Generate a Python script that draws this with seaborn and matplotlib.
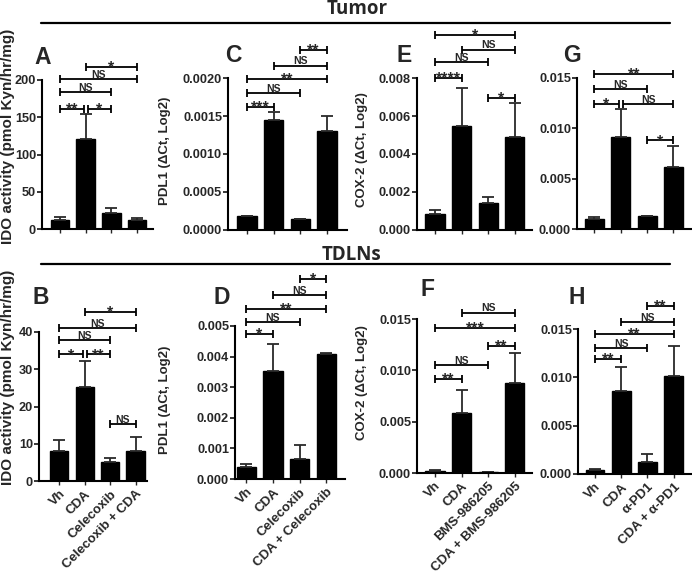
import matplotlib
matplotlib.use("Agg")
import matplotlib.pyplot as plt
from matplotlib.ticker import FormatStrFormatter, MultipleLocator
import seaborn as sns

# group labels
groups_cel_b = ["Vh", "CDA", "Celecoxib", "Celecoxib + CDA"]
groups_cel_d = ["Vh", "CDA", "Celecoxib", "CDA + Celecoxib"]
groups_bms = ["Vh", "CDA", "BMS-986205", "CDA + BMS-986205"]
groups_pd1 = ["Vh", "CDA", "α-PD1", "CDA + α-PD1"]

# Tumor (mean, upper SEM)
a_mean = [12, 121, 22, 12]
a_err = [4, 33, 6, 3]
c_mean = [0.00018, 0.00145, 0.00014, 0.0013]
c_err = [0.000004, 0.0001, 0.00001, 0.0002]
e_mean = [0.00085, 0.0055, 0.0014, 0.0049]
e_err = [0.0002, 0.002, 0.00035, 0.0018]
g_mean = [0.001, 0.0091, 0.0013, 0.0062]
g_err = [0.0002, 0.0028, 0.0, 0.002]

# TDLNs
b_mean = [8, 25.2, 5, 8]
b_err = [3, 7, 1.3, 3.7]
d_mean = [0.0004, 0.00352, 0.00066, 0.0041]
d_err = [0.0001, 0.0009, 0.00045, 0.00003]
f_mean = [0.0002, 0.0058, 0.00005, 0.0088]
f_err = [0.00005, 0.0023, 0.0, 0.0029]
h_mean = [0.0004, 0.0086, 0.0012, 0.0101]
h_err = [0.0001, 0.0025, 0.0009, 0.0031]

# significance brackets: (group i, group j, height, label)
a_sig = [(0, 1, 161, "**"), (1, 2, 161, "*"), (0, 2, 184, "NS"), (0, 3, 201, "NS"), (1, 3, 218, "*")]
c_sig = [(0, 1, 0.00162, "***"), (0, 2, 0.0018, "NS"), (0, 3, 0.00199, "**"),
         (1, 3, 0.00216, "NS"), (2, 3, 0.00237, "**")]
e_sig = [(0, 1, 0.008, "****"), (0, 2, 0.00884, "NS"), (1, 3, 0.0095, "NS"),
         (0, 3, 0.01026, "*"), (2, 3, 0.00695, "*")]
g_sig = [(0, 1, 0.0124, "*"), (1, 3, 0.0124, "NS"), (0, 2, 0.0139, "NS"),
         (0, 3, 0.0154, "**"), (2, 3, 0.0088, "*")]
b_sig = [(0, 1, 34, "*"), (1, 2, 34, "**"), (0, 2, 37.8, "NS"), (0, 3, 41, "NS"),
         (1, 3, 45.4, "*"), (2, 3, 15.3, "NS")]
d_sig = [(0, 1, 0.00474, "*"), (0, 2, 0.00513, "NS"), (0, 3, 0.00556, "**"),
         (1, 3, 0.006, "NS"), (2, 3, 0.00653, "*")]
f_sig = [(0, 1, 0.00916, "**"), (0, 2, 0.0105, "NS"), (2, 3, 0.0124, "**"),
         (0, 3, 0.0141, "***"), (1, 3, 0.0156, "NS")]
h_sig = [(0, 1, 0.0119, "**"), (0, 2, 0.013, "NS"), (0, 3, 0.0145, "**"),
         (1, 3, 0.0157, "NS"), (2, 3, 0.0174, "**")]

sns.set_theme(style="ticks")
plt.rcParams["font.family"] = ["Liberation Sans", "DejaVu Sans"]
plt.rcParams["font.weight"] = "bold"

W, H = 692, 576
fig = plt.figure(figsize=(W / 100, H / 100), dpi=100)


def px_axes(left, right, top, bottom):
    return fig.add_axes([left / W, 1 - bottom / H, (right - left) / W, (bottom - top) / H])


def draw_panel(box, xlim, groups, means, errs, ymax, step, fmt, sig, show_labels):
    ax = px_axes(*box)
    sns.barplot(x=groups, y=means, color="black", width=0.72, errorbar=None,
                saturation=1, edgecolor="black", ax=ax)
    ax.errorbar(range(len(means)), means, yerr=[[0] * len(errs), errs], fmt="none",
                ecolor="#2a2a2a", elinewidth=1.3, capsize=4.5, capthick=1.3)
    ax.set_ylim(0, ymax)
    ax.set_xlim(*xlim)
    ax.yaxis.set_major_locator(MultipleLocator(step))
    ax.yaxis.set_major_formatter(FormatStrFormatter(fmt))
    ax.set_ylabel("")
    ax.set_xlabel("")
    sns.despine(ax=ax)
    for s in ("left", "bottom"):
        ax.spines[s].set_linewidth(1.5)
        ax.spines[s].set_color("black")
    ax.tick_params(axis="y", direction="out", length=3.5, width=1.3, labelsize=9.2, pad=0.8)
    ax.tick_params(axis="x", direction="out", length=3, width=1.0, labelsize=9.5, pad=2)
    if show_labels:
        plt.setp(ax.get_xticklabels(), rotation=45, ha="right", rotation_mode="anchor",
                 fontweight="bold")
    else:
        ax.set_xticklabels([])
    for lab in ax.get_yticklabels():
        lab.set_fontweight("bold")

    for i, j, y, txt in sig:
        x0, x1 = i, j
        for i2, j2, y2, _ in sig:
            if y2 == y and (i2, j2) != (i, j):
                if j == i2:
                    x1 -= 0.08
                if i == j2:
                    x0 += 0.08
        ax.plot([x0, x1], [y, y], color="black", lw=1.3, marker="|", ms=5.5, mew=1.3,
                clip_on=False, solid_capstyle="butt")
        star = "*" in txt
        ax.annotate(txt, ((x0 + x1) / 2, y), xytext=(0, -4.3 if star else 1.0),
                    textcoords="offset points", ha="center", va="baseline",
                    fontsize=11.5 if star else 7.5, fontweight="bold",
                    annotation_clip=False)
    return ax


draw_panel((42, 153, 80, 229), (-0.7, 3.62), groups_cel_b, a_mean, a_err, 200, 50, "%d", a_sig, False)
draw_panel((228, 347, 78, 230), (-0.71, 3.75), groups_cel_d, c_mean, c_err, 0.002, 0.0005, "%.4f", c_sig, False)
draw_panel((417, 532, 78, 230), (-0.68, 3.65), groups_bms, e_mean, e_err, 0.008, 0.002, "%.3f", e_sig, False)
draw_panel((577, 692, 78, 229), (-0.65, 3.7), groups_pd1, g_mean, g_err, 0.015, 0.005, "%.3f", g_sig, False)

draw_panel((39, 147, 332, 481), (-0.8, 3.45), groups_cel_b, b_mean, b_err, 40, 10, "%d", b_sig, True)
draw_panel((235, 345, 326, 479), (-0.42, 3.7), groups_cel_d, d_mean, d_err, 0.005, 0.001, "%.3f", d_sig, True)
draw_panel((417, 532, 319, 473), (-0.68, 3.65), groups_bms, f_mean, f_err, 0.015, 0.005, "%.3f", f_sig, True)
draw_panel((578, 692, 329, 474), (-0.65, 3.7), groups_pd1, h_mean, h_err, 0.015, 0.005, "%.3f", h_sig, True)


def ftext(x, y, s, **kw):
    fig.text(x / W, 1 - y / H, s, **kw)


# section headers
for label, tx, ty, ly in (("Tumor", 357, 9, 23), ("TDLNs", 351, 255, 264)):
    ftext(tx, ty, label, ha="center", va="center", fontsize=13.5, fontweight="bold",
          family=["Open Sans", "DejaVu Sans"])
    fig.add_artist(plt.Line2D([41 / W, 670 / W], [1 - ly / H, 1 - ly / H], color="black", lw=1.6))

# panel letters
for letter, x, y in (("A", 43, 58), ("C", 233, 55), ("E", 404, 56), ("G", 572, 55),
                     ("B", 41, 298), ("D", 222, 298), ("F", 427, 290), ("H", 577, 297)):
    ftext(x, y, letter, ha="center", va="center", fontsize=16.5, fontweight="bold")

# y-axis titles
ido_label = "IDO activity (pmol Kyn/hr/mg)"
pdl1_label = "PDL1 (\u0394Ct, Log2)"
cox2_label = "COX-2 (\u0394Ct, Log2)"
for s, x, y, fs in ((ido_label, 8, 136, 11), (ido_label, 8, 377, 11),
                    (pdl1_label, 165, 151, 9.5), (pdl1_label, 165, 400, 9.5),
                    (cox2_label, 362, 150, 9.5), (cox2_label, 362, 383, 9.5)):
    ftext(x, y, s, ha="center", va="center", rotation=90, fontsize=fs, fontweight="bold")

fig.savefig("out.png", dpi=100)
